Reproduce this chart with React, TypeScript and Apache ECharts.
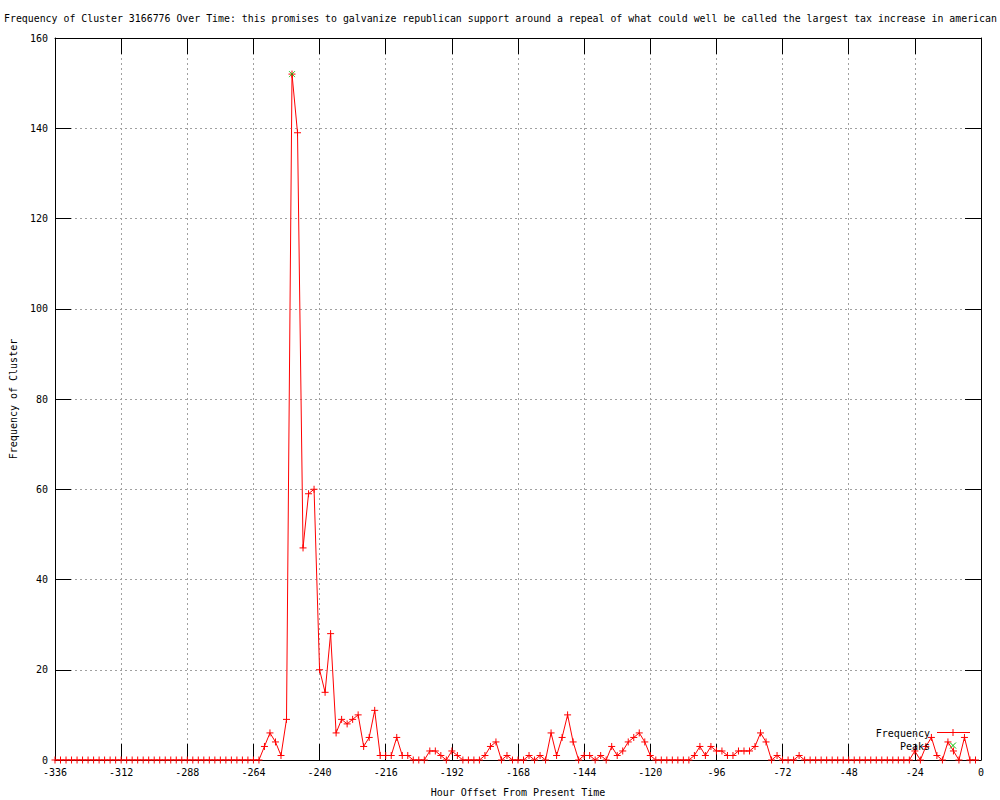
import React, { useEffect, useRef } from "react";
import * as echarts from "echarts";

const TITLE =
  "Frequency of Cluster 3166776 Over Time: this promises to galvanize republican support around a repeal of what could well be called the largest tax increase in american";
const X_NAME = "Hour Offset From Present Time";
const Y_NAME = "Frequency of Cluster";

const FIRST_HOUR = -336;
const HOUR_STEP = 2;

// one value every 2 hours, from -336 to -2 (12 values per 24-hour row)
const frequency = [
  0, 0, 0, 0, 0, 0, 0, 0, 0, 0, 0, 0, // -336 .. -314
  0, 0, 0, 0, 0, 0, 0, 0, 0, 0, 0, 0, // -312 .. -290
  0, 0, 0, 0, 0, 0, 0, 0, 0, 0, 0, 0, // -288 .. -266
  0, 0, 3, 6, 4, 1, 9, 152, 139, 47, 59, 60, // -264 .. -242
  20, 15, 28, 6, 9, 8, 9, 10, 3, 5, 11, 1, // -240 .. -218
  1, 1, 5, 1, 1, 0, 0, 0, 2, 2, 1, 0, // -216 .. -194
  2, 1, 0, 0, 0, 0, 1, 3, 4, 0, 1, 0, // -192 .. -170
  0, 0, 1, 0, 1, 0, 6, 1, 5, 10, 4, 0, // -168 .. -146
  1, 1, 0, 1, 0, 3, 1, 2, 4, 5, 6, 4, // -144 .. -122
  1, 0, 0, 0, 0, 0, 0, 0, 1, 3, 1, 3, // -120 .. -98
  2, 2, 1, 1, 2, 2, 2, 3, 6, 4, 0, 1, // -96 .. -74
  0, 0, 0, 1, 0, 0, 0, 0, 0, 0, 0, 0, // -72 .. -50
  0, 0, 0, 0, 0, 0, 0, 0, 0, 0, 0, 0, // -48 .. -26
  2, 0, 3, 5, 1, 0, 4, 2, 0, 5, 0, 0, // -24 .. -2
];

const peakHours = [-250];
const peakValues = [152];

const X_MIN = -336;
const X_MAX = 0;
const X_STEP = 24;
const Y_MIN = 0;
const Y_MAX = 160;
const Y_STEP = 20;

const LEGEND_LABELS = ["Frequency", "Peaks"];

const FONT = "DejaVu Sans Mono";
const RED = "#ff0000";
const GREEN = "#00c000";
const PLUS = "path://M0,5L10,5M5,0L5,10";
const CROSS = "path://M0,0L10,10M10,0L0,10";

export default function App() {
  const ref = useRef<HTMLDivElement>(null);

  useEffect(() => {
    if (!ref.current) return;
    const chart = echarts.init(ref.current, undefined, { renderer: "svg" });

    const lineData = frequency.map((v, i) => [FIRST_HOUR + HOUR_STEP * i, v]);
    const peakData = peakHours.map((h, i) => [h, peakValues[i]]);

    const textStyle = { fontFamily: FONT, fontSize: 10, color: "#000" };
    const gridLine = { show: true, lineStyle: { color: "#a0a0a0", width: 1, type: [2, 3] as any } };
    const axisLine = { show: true, onZero: false, lineStyle: { color: "#000", width: 1 } };

    const lx = 930; // legend text right edge
    const ly1 = 733;
    const ly2 = 746;
    const sx = 953;

    chart.setOption({
      animation: false,
      backgroundColor: "#fff",
      title: {
        text: TITLE,
        left: 4,
        top: 12,
        padding: 0,
        textStyle: { fontFamily: FONT, fontSize: 9.9, fontWeight: "normal", color: "#000", lineHeight: 12 },
      },
      grid: { left: 55, right: 19, top: 38, bottom: 40, containLabel: false, outerBoundsMode: "none" },
      xAxis: [
        {
          type: "value",
          position: "bottom",
          min: X_MIN,
          max: X_MAX,
          interval: X_STEP,
          axisLine,
          axisTick: { show: true, inside: true, length: 16, lineStyle: { color: "#000", width: 1 } },
          axisLabel: { ...textStyle, margin: 7 },
          splitLine: gridLine,
          name: X_NAME,
          nameLocation: "middle",
          nameGap: 27,
          nameTextStyle: textStyle,
        },
        {
          type: "value",
          position: "top",
          min: X_MIN,
          max: X_MAX,
          interval: X_STEP,
          axisLine,
          axisTick: { show: true, inside: true, length: 16, lineStyle: { color: "#000", width: 1 } },
          axisLabel: { show: false },
          splitLine: { show: false },
        },
      ],
      yAxis: [
        {
          type: "value",
          position: "left",
          min: Y_MIN,
          max: Y_MAX,
          interval: Y_STEP,
          axisLine,
          axisTick: { show: true, inside: true, length: 16, lineStyle: { color: "#000", width: 1 } },
          axisLabel: { ...textStyle, margin: 7 },
          splitLine: gridLine,
          name: Y_NAME,
          nameLocation: "middle",
          nameGap: 37,
          nameTextStyle: textStyle,
        },
        {
          type: "value",
          position: "right",
          min: Y_MIN,
          max: Y_MAX,
          interval: Y_STEP,
          axisLine,
          axisTick: { show: true, inside: true, length: 16, lineStyle: { color: "#000", width: 1 } },
          axisLabel: { show: false },
          splitLine: { show: false },
        },
      ],
      series: [
        {
          name: LEGEND_LABELS[0],
          type: "line",
          xAxisIndex: 0,
          yAxisIndex: 0,
          data: lineData,
          symbol: PLUS,
          symbolSize: 7,
          showAllSymbol: true,
          lineStyle: { color: RED, width: 1 },
          itemStyle: { color: RED, borderColor: RED, borderWidth: 1 },
          z: 3,
        },
        {
          name: LEGEND_LABELS[1],
          type: "scatter",
          xAxisIndex: 0,
          yAxisIndex: 0,
          data: peakData,
          symbol: CROSS,
          symbolSize: 6,
          itemStyle: { color: GREEN, borderColor: GREEN, borderWidth: 1 },
          z: 4,
        },
      ],
      graphic: [
        {
          type: "text",
          x: lx,
          y: ly1,
          z: 10,
          style: { text: LEGEND_LABELS[0], font: `10px "${FONT}"`, fill: "#000", align: "right", verticalAlign: "middle" },
        },
        {
          type: "text",
          x: lx,
          y: ly2,
          z: 10,
          style: { text: LEGEND_LABELS[1], font: `10px "${FONT}"`, fill: "#000", align: "right", verticalAlign: "middle" },
        },
        { type: "line", z: 10, shape: { x1: 937, y1: 732.5, x2: 970, y2: 732.5 }, style: { stroke: RED, lineWidth: 1 } },
        { type: "line", z: 10, shape: { x1: sx, y1: 729, x2: sx, y2: 736 }, style: { stroke: RED, lineWidth: 1 } },
        { type: "line", z: 10, shape: { x1: sx - 3, y1: 742.5, x2: sx + 3, y2: 748.5 }, style: { stroke: GREEN, lineWidth: 1 } },
        { type: "line", z: 10, shape: { x1: sx + 3, y1: 742.5, x2: sx - 3, y2: 748.5 }, style: { stroke: GREEN, lineWidth: 1 } },
      ],
    });

    return () => chart.dispose();
  }, []);

  return (
    <div
      ref={ref}
      style={{ position: "absolute", left: 0, top: 0, width: 1000, height: 800 }}
    />
  );
}
